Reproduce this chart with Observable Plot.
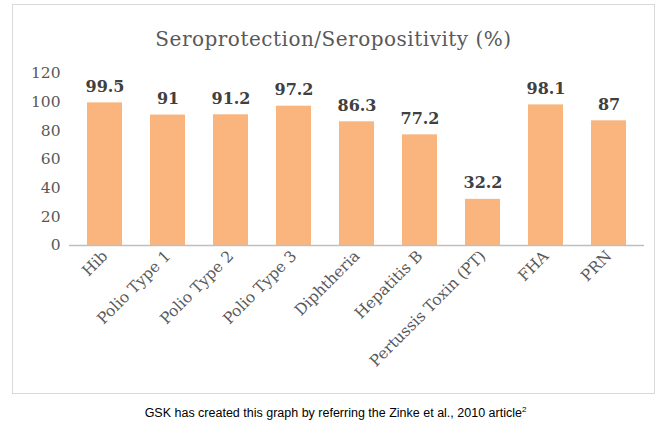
<!DOCTYPE html>
<html><head><meta charset="utf-8">
<script src="https://cdn.jsdelivr.net/npm/d3@7"></script>
<script src="https://cdn.jsdelivr.net/npm/@observablehq/plot@0.6"></script>
<style>
body{margin:0;background:#fff;width:671px;height:428px;position:relative;overflow:hidden}
#box{position:absolute;left:12px;top:4px;width:643px;height:390px;border:1px solid #d9d9d9;box-sizing:border-box}
#title{position:absolute;top:22px;left:0;width:100%;text-align:center;font-family:"DejaVu Serif",serif;font-size:20px;color:#595959;letter-spacing:0.5px}
#chart{position:absolute;top:60px;left:0}
#cap{position:absolute;top:405px;left:0;width:671px;text-align:center;font-family:"Liberation Sans",Arial,sans-serif;font-size:12.5px;color:#000}
</style></head><body>
<div id="box"><div id="title">Seroprotection/Seropositivity (%)</div><div id="chart"></div></div>
<div id="cap">GSK has created this graph by referring the Zinke et al., 2010 article<sup style="font-size:8px">2</sup></div>
<script>
const categories=["Hib","Polio Type 1","Polio Type 2","Polio Type 3","Diphtheria","Hepatitis B","Pertussis Toxin (PT)","FHA","PRN"];
const values=[99.5,91,91.2,97.2,86.3,77.2,32.2,98.1,87];
const yTicks=[0,20,40,60,80,100,120];
const data=categories.map((c,i)=>({c,v:values[i]}));
const serif='"DejaVu Serif",serif';
const p=Plot.plot({
 width:641,height:325,marginTop:8,marginBottom:145,marginLeft:56,marginRight:10,
 style:{fontFamily:serif,fontSize:"15.5px",color:"#595959",background:"transparent"},
 x:{domain:categories,paddingInner:0.45,paddingOuter:0.22,label:null,tickSize:0,tickRotate:-45,tickPadding:8},
 y:{domain:[0,120],ticks:yTicks,label:null,tickSize:0,tickPadding:9},
 marks:[
  Plot.barY(data,{x:"c",y:"v",fill:"#f9b57d"}),
  Plot.ruleY([0],{stroke:"#bfbfbf",strokeWidth:1.5}),
  Plot.text(data,{x:"c",y:"v",text:d=>String(d.v),dy:-16,fontWeight:"bold",fontSize:16,fill:"#404040"})
 ]
});
document.getElementById("chart").appendChild(p);
</script></body></html>
